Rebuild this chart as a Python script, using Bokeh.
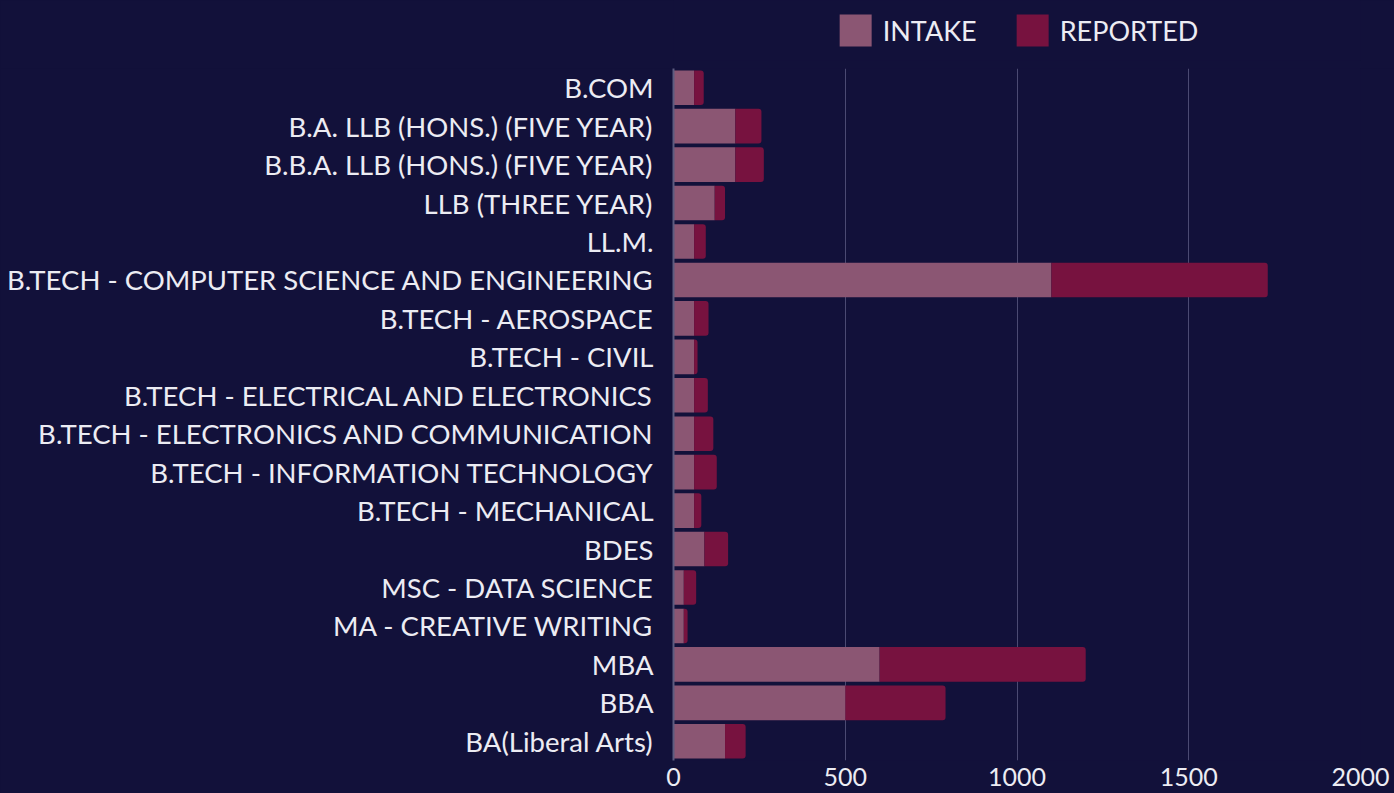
import numpy as np
from bokeh.plotting import figure
from bokeh.layouts import column
from bokeh.models import ColumnDataSource, Legend, LegendItem, FactorRange, Range1d, FixedTicker
from bokeh.embed import file_html
from bokeh.resources import INLINE

courses = [
    "B.COM",
    "B.A. LLB (HONS.) (FIVE YEAR)",
    "B.B.A. LLB (HONS.) (FIVE YEAR)",
    "LLB (THREE YEAR)",
    "LL.M.",
    "B.TECH - COMPUTER SCIENCE AND ENGINEERING",
    "B.TECH - AEROSPACE",
    "B.TECH - CIVIL",
    "B.TECH - ELECTRICAL AND ELECTRONICS",
    "B.TECH - ELECTRONICS AND COMMUNICATION",
    "B.TECH - INFORMATION TECHNOLOGY",
    "B.TECH - MECHANICAL",
    "BDES",
    "MSC - DATA SCIENCE",
    "MA - CREATIVE WRITING",
    "MBA",
    "BBA",
    "BA(Liberal Arts)",
]
intake = [60, 180, 180, 120, 60, 1100, 60, 60, 60, 60, 60, 60, 90, 30, 30, 600, 500, 150]
reported = [28, 76, 83, 30, 34, 630, 42, 10, 40, 56, 66, 21, 69, 36, 11, 600, 292, 60]
x_ticks = [0, 500, 1000, 1500, 2000]
series_names = ["INTAKE", "REPORTED"]

BG = "#12113a"
C_INTAKE = "#8b5673"
C_REPORTED = "#77123f"
TXT = "#ececf3"
FONT = "Lato"
W = 1394

intake_a = np.array(intake, dtype=float)
total_a = intake_a + np.array(reported, dtype=float)

src = ColumnDataSource(dict(course=courses, intake=intake_a, total=total_a, zero=np.zeros(len(courses))))

# ---- legend strip (swatch glyphs sit outside the visible range) ----
lg = figure(width=W, height=68, output_backend="svg", toolbar_location=None,
            x_axis_type=None, y_axis_type=None,
            background_fill_color=BG, border_fill_color=BG,
            min_border_left=647, min_border_right=34, min_border_top=0, min_border_bottom=8,
            x_range=Range1d(0, 1), y_range=Range1d(0, 1))
lg.outline_line_color = None
lg.grid.visible = False
offscreen = ColumnDataSource(dict(x=[-10.0], y=[-10.0]))
g1 = lg.rect(x="x", y="y", width=1, height=1, source=offscreen, fill_color=C_INTAKE, line_color=None)
g2 = lg.rect(x="x", y="y", width=1, height=1, source=offscreen, fill_color=C_REPORTED, line_color=None)
legend = Legend(
    items=[LegendItem(label=series_names[0], renderers=[g1]), LegendItem(label=series_names[1], renderers=[g2])],
    orientation="horizontal", location="center",
    background_fill_alpha=0, border_line_color=None,
    label_text_color=TXT, label_text_font=FONT, label_text_font_size="27px",
    glyph_width=40, glyph_height=40, label_height=40, spacing=35, label_standoff=8,
    padding=0, margin=0,
)
lg.add_layout(legend, "center")

# ---- main chart ----
p = figure(
    width=W, height=725,
    y_range=FactorRange(*courses[::-1], range_padding=0.0),
    x_range=Range1d(0, 2000),
    output_backend="svg", toolbar_location=None,
    background_fill_color=BG, border_fill_color=BG,
    min_border_left=673, min_border_right=34, min_border_top=0, min_border_bottom=33,
)
p.outline_line_color = None

r1 = p.hbar(y="course", left="zero", right="intake", height=0.9, source=src,
            fill_color=C_INTAKE, line_color=None)
r2 = p.hbar(y="course", left="intake", right="total", height=0.9, source=src,
            fill_color=C_REPORTED, line_color=None, border_radius=(0, 3, 3, 0))

p.xgrid.ticker = FixedTicker(ticks=x_ticks)
p.xgrid.grid_line_color = "#4b4a72"
p.xgrid.grid_line_width = 1
p.ygrid.grid_line_color = None

p.xaxis.ticker = FixedTicker(ticks=x_ticks)
p.xaxis.axis_line_color = None
p.xaxis.major_tick_line_color = None
p.xaxis.minor_tick_line_color = None
p.xaxis.major_tick_out = 0
p.xaxis.major_tick_in = 0
p.xaxis.major_label_standoff = 7
p.xaxis.major_label_text_color = TXT
p.xaxis.major_label_text_font = FONT
p.xaxis.major_label_text_font_size = "25px"

p.yaxis.axis_line_color = "#5d5c80"
p.yaxis.axis_line_width = 2
p.yaxis.major_tick_line_color = None
p.yaxis.minor_tick_line_color = None
p.yaxis.major_tick_out = 0
p.yaxis.major_tick_in = 0
p.yaxis.major_label_standoff = 20
p.yaxis.major_label_text_color = TXT
p.yaxis.major_label_text_font = FONT
p.yaxis.major_label_text_font_size = "27.5px"

layout = column(lg, p, spacing=0, styles={"background-color": BG})
open("out.html", "w").write(file_html(layout, INLINE))
